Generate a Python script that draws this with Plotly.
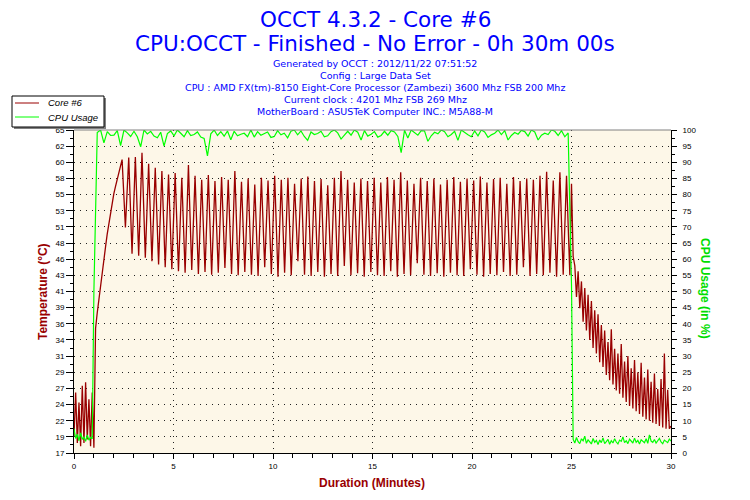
import numpy as np
import plotly.graph_objects as go

# ---------------- data ----------------
STEP5 = 5 / 60.0    # minutes
# Core #6 temperature (°C)
TEMP_IDLE = [19.5, 26.0, 18.5, 24.5, 18.0, 27.0, 18.5, 27.5, 19.0, 25.0, 18.0, 26.0, 17.8]   # 0 .. 1.0 min
TEMP_RAMP = [35.5, 37.8, 39.6, 41.4, 43.5, 45.8, 47.6, 49.5, 51.1, 52.6, 54.2, 55.5,
             56.6, 57.7, 58.8, 60.0]                                                    # 1.08 .. 2.33 min
TEMP_PEAKS = [60.6, 60.9, 61.0, 61.6, 60.0, 59.4, 58.9, 58.4, 58.6, 57.9,
              59.8, 58.2, 57.6, 58.3, 57.4, 58.0, 57.6, 58.9, 57.3, 57.8,
              56.9, 57.9, 57.5, 58.2, 57.6, 57.9, 57.0, 57.8, 58.1, 57.4,
              57.7, 56.8, 57.9, 58.9, 57.6, 57.2, 57.8, 57.4, 57.9, 57.2,
              58.0, 57.6, 58.7, 57.5, 57.0, 57.9, 57.4, 57.8, 56.9, 57.6,
              58.0, 57.3, 57.8, 57.5, 58.1, 57.2, 57.7, 57.9, 57.0, 58.0,
              57.4, 57.8, 57.6, 58.2, 58.8, 57.5, 58.7, 58.2]
TEMP_TROUGHS = [50.5, 46.6, 46.3, 46.0, 45.5, 45.0, 44.6, 44.3, 44.0, 43.8,
                44.2, 43.6, 43.9, 43.5, 43.8, 44.5, 43.6, 43.4, 43.9, 43.5,
                43.3, 44.6, 43.6, 43.2, 43.8, 43.4, 45.5, 43.5, 43.3, 43.9,
                43.2, 43.6, 43.3, 44.8, 43.4, 43.7, 43.2, 43.9, 43.4, 43.3,
                44.0, 43.2, 43.6, 43.4, 45.2, 43.5, 43.3, 43.7, 43.2, 43.8,
                43.4, 43.3, 44.3, 43.5, 43.2, 43.6, 43.4, 43.9, 43.3, 43.5,
                44.6, 43.3, 43.6, 43.4, 43.8, 43.2, 43.5, 43.4]
TEMP_COOL = [57.0, 46.2, 44.8, 40.2, 44.0, 38.5, 42.5, 36.5, 41.5, 35.2, 40.5, 33.8,
             39.6, 32.6, 38.2, 31.8, 37.6, 30.5, 36.0, 29.8, 35.2, 28.6, 33.5, 27.8,
             35.4, 27.2, 32.5, 26.3, 31.8, 25.8, 33.2, 25.2, 30.6, 24.6, 31.4, 24.0,
             29.6, 23.6, 30.8, 23.2, 29.0, 22.8, 30.4, 22.4, 28.2, 22.0, 29.4, 21.8,
             27.6, 21.5, 28.8, 21.3, 26.5, 21.0, 28.0, 20.8, 31.8, 20.6, 26.4, 20.6, 21.0]  # 25 .. 30 min

# CPU usage (%)
CPU_IDLE = [7.5, 4.5, 5.8, 3.8, 6.2, 4.2, 5.0, 3.6, 5.6, 4.0, 4.8, 4.4]          # 0 .. 0.92 min
CPU_LOAD = [50.0, 99.2, 100, 96.0, 99.5, 98.3, 98.4, 99.8, 95.2, 100, 99.1, 98.0,
            99.6, 97.9, 94.8, 100, 98.8, 99.6, 98.1, 97.6, 99.3, 95.0, 98.9, 99.7,
            98.2, 100, 99.0, 97.9, 99.8, 98.3, 98.6, 99.4, 97.8, 97.4, 92.0, 98.8,
            100, 98.3, 99.5, 98.1, 99.7, 97.0, 99.6, 98.2, 98.7, 99.0, 97.9, 100,
            97.8, 99.5, 98.4, 98.9, 99.4, 97.7, 98.0, 99.8, 98.5, 99.0, 97.6, 99.6,
            100, 98.5, 99.7, 98.0, 96.8, 99.4, 98.6, 98.9, 99.6, 97.9, 98.2, 99.5,
            100, 99.1, 97.2, 98.4, 99.6, 98.4, 100, 99.3, 96.9, 99.8, 98.1, 98.7,
            99.5, 97.8, 98.3, 99.6, 98.4, 99.8, 99.4, 98.0, 93.0, 99.9, 97.5, 100,
            99.2, 98.4, 99.8, 99.7, 96.5, 98.2, 99.3, 98.8, 100, 99.5, 97.9, 98.6,
            99.6, 96.8, 100, 99.1, 98.5, 97.9, 99.7, 98.2, 100, 99.4, 97.7, 98.5,
            99.0, 100, 98.6, 99.8, 96.9, 98.3, 99.2, 98.7, 99.9, 99.5, 98.1, 100,
            99.4, 96.9, 98.4, 99.0, 98.6, 100, 99.6, 98.3, 99.8, 97.9, 99.1, 52.0]  # 1.0 .. 25.0 min
CPU_COOL = [4.2, 3.1, 4.8, 3.5, 2.9, 4.4, 3.8, 5.2, 3.0, 4.1, 3.6, 2.8, 4.5, 3.3, 3.9,
            2.6, 4.0, 3.2, 4.7, 2.9, 3.5, 4.2, 2.7, 3.8, 3.1, 4.4, 3.4, 2.8, 4.0, 3.6,
            5.0, 3.2, 3.8, 2.9, 4.3, 3.5, 3.1, 4.6, 3.3, 3.9, 2.8, 4.1, 3.6, 3.2, 4.4,
            3.0, 5.6, 3.7, 3.3, 4.2, 3.1, 3.8, 4.5, 3.4, 2.9, 4.0, 3.6, 3.2, 4.3, 3.7]  # 25.08 .. 30 min

TEMP_TICK_LABELS = ["17", "19", "22", "24", "27", "29", "31", "34", "36", "39", "41",
                    "43", "46", "48", "51", "53", "55", "58", "60", "62", "65"]

SERIES_NAMES = ["Core #6", "CPU Usage"]
TITLE_LINES = ["OCCT 4.3.2 - Core #6",
               "CPU:OCCT - Finished - No Error - 0h 30m 00s"]
INFO_LINES = ["Generated by OCCT : 2012/11/22 07:51:52",
              "Config : Large Data Set",
              "CPU : AMD FX(tm)-8150 Eight-Core Processor (Zambezi) 3600 Mhz FSB 200 Mhz",
              "Current clock : 4201 Mhz FSB 269 Mhz",
              "MotherBoard : ASUSTeK Computer INC.: M5A88-M"]

# ---------------- assemble series ----------------
t_idle = np.arange(len(TEMP_IDLE)) * STEP5
t_ramp = 1.0 + (np.arange(len(TEMP_RAMP)) + 1) * STEP5
load_vals = []
for p, q in zip(TEMP_PEAKS, TEMP_TROUGHS):
    load_vals += [p, q]
t_load = np.linspace(2.4167, 24.9167, len(load_vals))
t_cool = np.linspace(25.0, 30.0, len(TEMP_COOL))
t_temp = np.concatenate([t_idle, t_ramp, t_load, t_cool])
temp = np.concatenate([TEMP_IDLE, TEMP_RAMP, load_vals, TEMP_COOL])

tc_idle = np.arange(len(CPU_IDLE)) * STEP5
tc_load = np.linspace(1.0, 25.0, len(CPU_LOAD))
tc_cool = np.linspace(25.0 + STEP5, 30.0, len(CPU_COOL))
t_cpu = np.concatenate([tc_idle, tc_load, tc_cool])
cpu = np.concatenate([CPU_IDLE, CPU_LOAD, CPU_COOL])

# ---------------- figure ----------------
# page coordinates (the html body adds an 8px offset)
OFF = 8
FW, FH = 750 - OFF, 500 - OFF
L, R, T, B = 74, 671, 130, 453
def px(x):
    return (x - L) / (R - L)
def py(y):
    return (B - y) / (B - T)

RED = "#990000"
GREEN = "#00FF00"
BLUE = "#0000FF"

fig = go.Figure()
fig.add_trace(go.Scatter(x=t_temp, y=temp, mode="lines", name=SERIES_NAMES[0],
                         line=dict(color=RED, width=1.3), yaxis="y"))
fig.add_trace(go.Scatter(x=t_cpu, y=cpu, mode="lines", name=SERIES_NAMES[1],
                         line=dict(color=GREEN, width=1.2), yaxis="y2"))

temp_tickvals = list(np.linspace(17, 65, 21))
temp_minor = list(np.linspace(17 + 1.2, 65 - 1.2, 20))

tickfont = dict(family="Liberation Sans", size=8, color="black")
griddash = "1px,5px"

fig.update_layout(
    width=FW, height=FH, autosize=False,
    margin=dict(l=L - OFF, r=750 - R, t=T - OFF, b=500 - B, pad=0),
    paper_bgcolor="white", plot_bgcolor="#FDF7E8",
    font=dict(family="DejaVu Sans", size=9, color="black"),
    showlegend=False,
    xaxis=dict(range=[0, 30], tick0=0, dtick=5, ticks="outside", ticklen=5, tickcolor="black",
               minor=dict(dtick=1, ticks="outside", ticklen=4, tickcolor="black", showgrid=False),
               showline=True, linecolor="black", linewidth=1,
               showgrid=True, gridcolor="#222222", gridwidth=1, griddash=griddash,
               zeroline=False, tickfont=tickfont),
    xaxis2=dict(overlaying="x", anchor="y", side="bottom", range=[0, 30], tick0=0, dtick=1,
                ticks="inside", ticklen=4, tickcolor="black", showticklabels=False,
                showgrid=False, zeroline=False, showline=False),
    yaxis=dict(range=[17, 65], tickmode="array", tickvals=temp_tickvals, ticktext=TEMP_TICK_LABELS,
               ticks="outside", ticklen=7, tickcolor="black",
               minor=dict(tickmode="array", tickvals=temp_minor, ticks="outside", ticklen=3,
                          tickcolor="black", showgrid=False),
               showline=True, linecolor="black", linewidth=1, showgrid=False, zeroline=False,
               tickfont=tickfont),
    yaxis2=dict(range=[0, 100], overlaying="y", side="right", anchor="x", tick0=0, dtick=5,
                ticks="outside", ticklen=5, tickcolor="black",
                minor=dict(dtick=2.5, ticks="outside", ticklen=3, tickcolor="black", showgrid=False),
                showline=True, linecolor="black", linewidth=1,
                showgrid=True, gridcolor="#222222", gridwidth=1, griddash=griddash,
                zeroline=False, tickfont=tickfont, ticklabelstandoff=4),
    yaxis3=dict(range=[17, 65], overlaying="y", side="left", anchor="x", tickmode="array",
                tickvals=temp_tickvals, ticks="inside", ticklen=5, tickcolor="black",
                minor=dict(tickmode="array", tickvals=temp_minor, ticks="inside", ticklen=3,
                           tickcolor="black", showgrid=False),
                showticklabels=False, showgrid=False, zeroline=False, showline=False),
    yaxis4=dict(range=[0, 100], overlaying="y", side="right", anchor="x", tick0=0, dtick=5,
                ticks="inside", ticklen=5, tickcolor="black",
                minor=dict(dtick=2.5, ticks="inside", ticklen=3, tickcolor="black", showgrid=False),
                showticklabels=False, showgrid=False, zeroline=False, showline=False),
)

# top border of the plot area
fig.add_shape(type="line", xref="paper", yref="paper", x0=0, x1=1, y0=1, y1=1,
              line=dict(color="#808080", width=1))

# legend box (drawn as a framed key)
fig.add_shape(type="rect", xref="paper", yref="paper", layer="above",
              x0=px(14), x1=px(106), y0=py(98), y1=py(129),
              fillcolor="#808080", line=dict(width=0))
fig.add_shape(type="rect", xref="paper", yref="paper", layer="above",
              x0=px(12), x1=px(104), y0=py(96), y1=py(127),
              fillcolor="white", line=dict(color="black", width=1))
for i, (name, col) in enumerate(zip(SERIES_NAMES, [RED, GREEN])):
    yy = 103 + 14 * i
    fig.add_shape(type="line", xref="paper", yref="paper", layer="above",
                  x0=px(15), x1=px(39), y0=py(yy), y1=py(yy), line=dict(color=col, width=1))
    fig.add_annotation(text=name, x=px(46), y=py(yy), xref="paper", yref="paper",
                       xanchor="left", yanchor="middle", showarrow=False,
                       font=dict(family="Liberation Sans", size=9.5, style="italic", color="black"))

ann = []
ann.append(dict(text=TITLE_LINES[0], x=px(375), y=py(19), font=dict(size=21.5, color=BLUE)))
ann.append(dict(text=TITLE_LINES[1], x=px(375), y=py(43.5), font=dict(size=21.5, color=BLUE)))
for i, line in enumerate(INFO_LINES):
    ann.append(dict(text=line, x=px(375), y=py(63 + 12 * i), font=dict(size=9.5, color=BLUE)))
axis_font = dict(family="Liberation Sans Narrow, Liberation Sans", size=12, color=RED, weight="bold")
ann.append(dict(text="Duration (Minutes)", x=px(372), y=py(483), font=axis_font))
ann.append(dict(text="Temperature (°C)", x=px(43), y=py(292), textangle=-90, font=axis_font))
ann.append(dict(text="CPU Usage (in %)", x=px(705), y=py(288), textangle=90,
                font=dict(family="Liberation Sans Narrow, Liberation Sans", size=12, color="#00DD00",
                          weight="bold")))
for a in ann:
    a.update(xref="paper", yref="paper", xanchor="center", yanchor="middle", showarrow=False,
             borderpad=0)
    fig.add_annotation(**a)

fig.write_html("out.html")
